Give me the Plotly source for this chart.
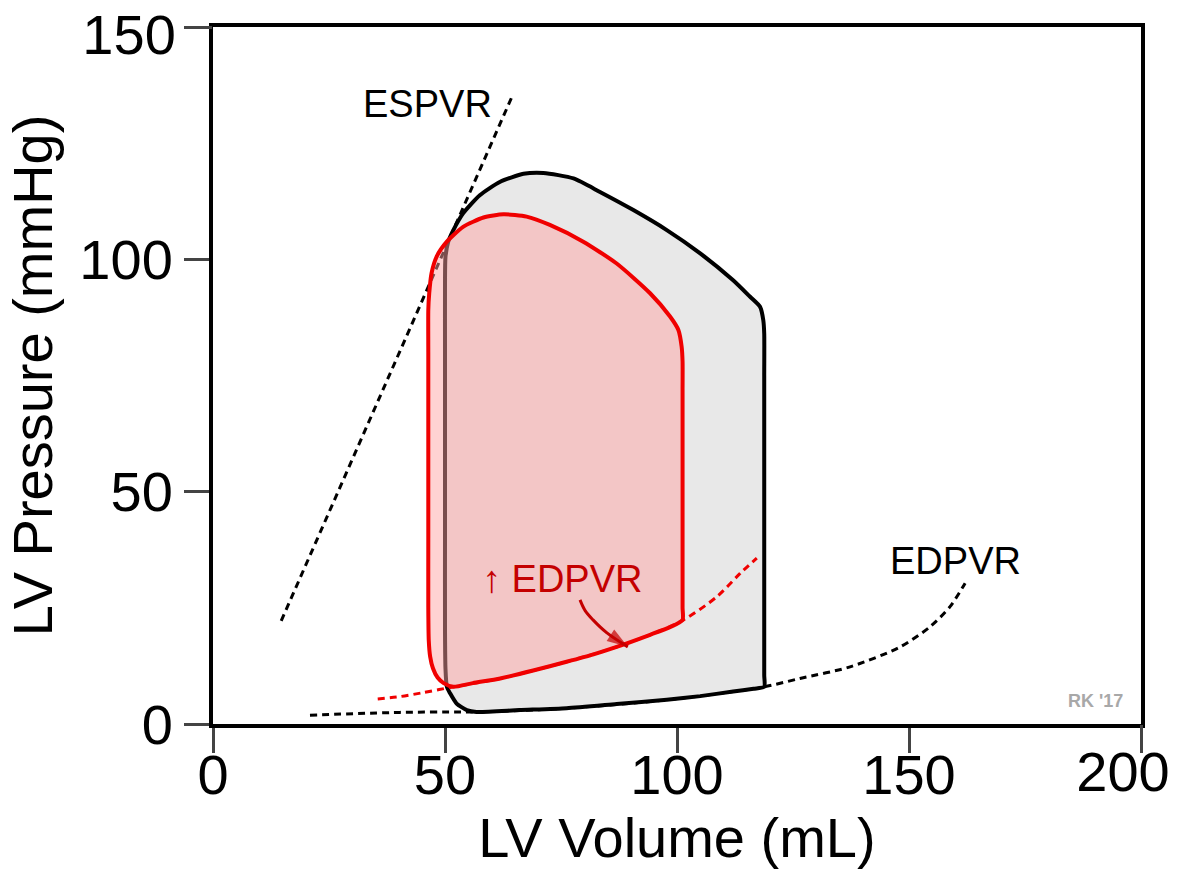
import plotly.graph_objects as go

# ---------------- data ----------------
# Baseline PV loop (black outline, gray fill): volume (mL), pressure (mmHg)
base_vol = [118.8, 118.8, 118.8, 118.8, 118.8, 118.8, 118.8, 118.6, 117.9, 115.7, 112.1, 105.0,
            97.8, 90.6, 83.4, 77.7, 71.2, 66.9, 61.9, 57.5, 53.9, 51.8, 50.7, 50.1,
            50.0, 50.0, 50.0, 50.0, 50.0, 50.1, 50.4, 51.1, 52.5, 54.7, 56.8, 66.0,
            76.2, 87.0, 97.8, 105.0, 112.1, 116.5, 118.8]
base_prs = [8.0, 10.5, 20.0, 40.0, 60.0, 75.0, 84.0, 86.9, 89.8, 92.0, 95.5, 101.3,
            106.3, 110.6, 114.5, 117.4, 118.6, 118.4, 116.7, 113.8, 109.9, 106.3, 103.8, 100.5,
            95.0, 80.0, 60.0, 40.0, 20.0, 12.0, 8.0, 6.6, 4.4, 3.0, 2.6, 3.0,
            3.4, 4.3, 5.2, 6.0, 7.0, 7.6, 8.0]

# Loop with increased EDPVR (red outline, pink fill)
red_vol = [101.2, 101.2, 101.2, 101.2, 101.2, 101.2, 101.2, 101.0, 100.3, 98.5, 94.2, 87.0,
           79.8, 72.6, 67.6, 62.6, 58.3, 53.9, 50.4, 48.2, 47.1, 46.6, 46.4, 46.4,
           46.4, 46.4, 46.4, 46.5, 46.8, 47.4, 48.4, 49.7, 51.8, 56.0, 61.9, 69.0,
           76.2, 82.0, 87.0, 94.2, 98.6, 101.2]
red_prs = [22.4, 25.0, 32.0, 45.0, 60.0, 72.0, 78.0, 81.2, 84.8, 87.7, 92.7, 99.1,
           103.8, 107.4, 109.2, 109.7, 109.0, 107.0, 103.8, 100.6, 97.0, 92.7, 89.1, 80.0,
           60.0, 40.0, 25.0, 18.0, 14.5, 12.0, 10.0, 8.8, 8.0, 8.8, 9.8, 11.5,
           13.4, 15.0, 16.6, 19.2, 20.9, 22.4]

# End-systolic PV relation (black dotted)
espvr_vol = [14.7, 64.7]
espvr_prs = [22.2, 135.6]

# Baseline EDPVR (black dotted)
edpvr_vol = [20.9, 40.3, 52.6, 56.8, 76.2, 97.8, 112.1, 118.8, 126.5, 137.3, 148.1, 154.5, 158.8, 162.1]
edpvr_prs = [1.9, 2.5, 2.6, 2.6, 3.4, 5.2, 7.0, 8.0, 9.8, 12.3, 16.6, 20.9, 25.2, 30.3]

# Increased EDPVR (red dotted)
edpvr2_vol = [35.5, 40.3, 45.0, 51.8, 61.9, 76.2, 87.0, 94.2, 101.4, 108.6, 113.6, 117.2]
edpvr2_prs = [5.4, 5.9, 6.7, 8.0, 9.8, 13.4, 16.6, 19.2, 22.4, 27.4, 32.4, 35.7]

# Curved pointer arrow from the red label to the red filling curve
ptr_vol = [79.1, 80.2, 81.9, 84.9, 89.4]
ptr_prs = [26.7, 24.4, 22.4, 19.6, 16.6]

# Text labels
label_text = ["ESPVR", "EDPVR", "↑ EDPVR"]
label_vol = [46.2, 160.1, 75.2]
label_prs = [133.5, 35.0, 31.3]
credit_text = "RK '17"
credit_pos = (190.3, 4.9)

x_ticks = [0, 50, 100, 150, 200]
y_ticks = [0, 50, 100, 150]

# ---------------- styling ----------------
FONT = "Liberation Sans, Arial, Helvetica, sans-serif"
RED = "#f00000"
DARKRED = "#c40000"
DOTS = "7px,5px"

fig = go.Figure()

fig.add_trace(go.Scatter(x=espvr_vol, y=espvr_prs, mode="lines",
                         line=dict(color="black", width=3, dash=DOTS), hoverinfo="skip"))
fig.add_trace(go.Scatter(x=edpvr_vol, y=edpvr_prs, mode="lines",
                         line=dict(color="black", width=3, dash=DOTS, shape="spline", smoothing=0.8),
                         hoverinfo="skip"))
fig.add_trace(go.Scatter(x=base_vol, y=base_prs, mode="lines", fill="toself",
                         fillcolor="#e8e8e8",
                         line=dict(color="black", width=4, shape="spline", smoothing=0.6),
                         hoverinfo="skip"))
fig.add_trace(go.Scatter(x=edpvr2_vol, y=edpvr2_prs, mode="lines",
                         line=dict(color=RED, width=3, dash=DOTS, shape="spline", smoothing=0.8),
                         hoverinfo="skip"))
fig.add_trace(go.Scatter(x=red_vol, y=red_prs, mode="lines", fill="toself",
                         fillcolor="rgba(255,160,160,0.48)",
                         line=dict(color=RED, width=4, shape="spline", smoothing=0.6),
                         hoverinfo="skip"))
fig.add_trace(go.Scatter(x=ptr_vol, y=ptr_prs, mode="lines+markers",
                         line=dict(color=DARKRED, width=3, shape="spline"),
                         marker=dict(symbol="arrow", angleref="previous", color=DARKRED,
                                     line=dict(width=0),
                                     size=[0] * (len(ptr_vol) - 1) + [22]),
                         hoverinfo="skip"))
# empty trace that activates the overlay axes used for the two end tick labels
fig.add_trace(go.Scatter(x=[], y=[], xaxis="x2", yaxis="y2", hoverinfo="skip"))

label_colors = ["black", "black", DARKRED]
for t, xv, yv, c in zip(label_text, label_vol, label_prs, label_colors):
    fig.add_annotation(x=xv, y=yv, text=t, showarrow=False, xanchor="center", yanchor="middle",
                       font=dict(family=FONT, size=38, color=c))
fig.add_annotation(x=credit_pos[0], y=credit_pos[1], text="<b>" + credit_text + "</b>",
                   showarrow=False, xanchor="center", yanchor="middle",
                   font=dict(family=FONT, size=18, color="#a8a8a8"))

tick_common = dict(ticks="outside", ticklen=25, tickwidth=3, tickcolor="#444444",
                   showgrid=False, zeroline=False, automargin=False,
                   ticklabeloverflow="allow",
                   tickfont=dict(family=FONT, size=56, color="black"),
                   fixedrange=True)

# main axes: all ticks, all labels except the last one (drawn by the overlay axes)
x_main_text = [str(v) for v in x_ticks[:-1]] + [""]
y_main_text = [str(v) for v in y_ticks[:-1]] + [""]

fig.update_layout(
    xaxis=dict(range=[0, 200], tickvals=x_ticks, ticktext=x_main_text,
               showline=True, linecolor="black", linewidth=4, mirror=True,
               ticklabelstandoff=-26,
               title=dict(text="LV Volume (mL)", font=dict(family=FONT, size=56, color="black"),
                          standoff=10),
               **tick_common),
    yaxis=dict(range=[0, 150], tickvals=y_ticks, ticktext=y_main_text,
               showline=True, linecolor="black", linewidth=4, mirror=True,
               title=dict(text="LV Pressure (mmHg)", font=dict(family=FONT, size=56, color="black"),
                          standoff=10),
               **tick_common),
    xaxis2=dict(range=[0, 200], overlaying="x", side="bottom", anchor="y2",
                tickvals=x_ticks[-1:], ticktext=[str(x_ticks[-1])],
                showline=False, ticklabelstandoff=-26, ticklabelshift=-18, **tick_common),
    yaxis2=dict(range=[0, 150], overlaying="y", side="left", anchor="x2",
                tickvals=y_ticks[-1:], ticktext=[str(y_ticks[-1])],
                showline=False, ticklabelshift=7, **tick_common),
)

fig.update_layout(width=1179, height=874, autosize=False,
                  margin=dict(l=213, r=38, t=27, b=150),
                  paper_bgcolor="white", plot_bgcolor="white",
                  showlegend=False, font=dict(family=FONT))

fig.write_html("out.html", config={"displayModeBar": False})
